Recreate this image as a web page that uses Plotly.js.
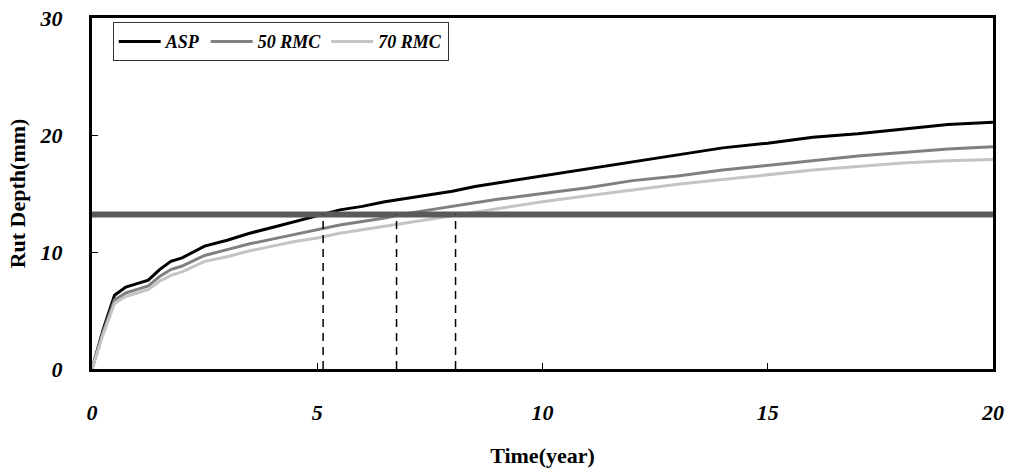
<!DOCTYPE html>
<html><head><meta charset="utf-8">
<script src="https://cdn.plot.ly/plotly-3.0.1.min.js"></script>
<style>html,body{margin:0;padding:0;background:#fff}#c{width:1011px;height:468px}</style>
</head><body><div id="c"></div>
<script>
const years = [0,0.25,0.5,0.75,1,1.25,1.5,1.75,2,2.5,3,3.5,4,4.5,5,5.5,6,6.5,7,7.5,8,8.5,9,10,11,12,13,14,15,16,17,18,19,20];
const asp   = [0,3.4,6.3,7.0,7.3,7.6,8.5,9.2,9.5,10.5,11.0,11.6,12.1,12.6,13.1,13.6,13.9,14.3,14.6,14.9,15.2,15.6,15.9,16.5,17.1,17.7,18.3,18.9,19.3,19.8,20.1,20.5,20.9,21.1];
const rmc50 = [0,3.2,5.9,6.5,6.8,7.1,7.9,8.5,8.8,9.7,10.2,10.7,11.1,11.5,11.9,12.3,12.6,12.9,13.3,13.6,13.9,14.2,14.5,15.0,15.5,16.1,16.5,17.0,17.4,17.8,18.2,18.5,18.8,19.0];
const rmc70 = [0,3.0,5.6,6.2,6.5,6.8,7.5,8.0,8.3,9.2,9.6,10.1,10.5,10.9,11.2,11.6,11.9,12.2,12.5,12.8,13.1,13.4,13.7,14.3,14.8,15.3,15.8,16.2,16.6,17.0,17.3,17.6,17.8,17.9];
const seriesNames = ['ASP','50 RMC','70 RMC'];
const limitDepth = 13.2;
const crossYears = [5.13, 6.76, 8.07];
const xTicks = [0,5,10,15,20];
const yTicks = [0,10,20,30];

const serif = 'Liberation Serif, Times New Roman, serif';
const mk = (y,name,color) => ({x:years,y:y,name:name,type:'scatter',mode:'lines',line:{color:color,width:3}});
const traces = [mk(asp,seriesNames[0],'#000000'), mk(rmc50,seriesNames[1],'#808080'), mk(rmc70,seriesNames[2],'#c4c4c4')];

const shapes = [{type:'line',xref:'paper',yref:'y',x0:0,x1:1,y0:limitDepth,y1:limitDepth,line:{color:'#5a5a5a',width:6}}];
crossYears.forEach(v=>shapes.push({type:'line',xref:'x',yref:'y',x0:v,x1:v,y0:0,y1:limitDepth,line:{color:'#000',width:1.5,dash:'8px,6px'}}));

const layout = {
  width:1011,height:468,
  margin:{l:92,r:18,t:18,b:99},
  paper_bgcolor:'#fff',plot_bgcolor:'#fff',
  showlegend:true,
  legend:{orientation:'h',x:0.023,y:0.988,xanchor:'left',yanchor:'top',bgcolor:'#fff',bordercolor:'#333',borderwidth:1,
          font:{family:serif,size:18,color:'#000',weight:'bold',style:'italic'},tracegroupgap:0,itemwidth:42},
  xaxis:{range:[0,20],tickvals:xTicks,ticktext:xTicks.map(String),ticks:'inside',ticklen:6,tickcolor:'#000',
         showgrid:false,zeroline:false,showline:true,linecolor:'#000',linewidth:3,mirror:true,ticklabelstandoff:22,
         tickfont:{family:serif,size:22,color:'#000',weight:'bold',style:'italic'},
         title:{text:'Time(year)',font:{family:serif,size:22,color:'#000',weight:'bold'},standoff:24}},
  yaxis:{range:[0,30],tickvals:yTicks,ticktext:yTicks.map(String),ticks:'inside',ticklen:6,tickcolor:'#000',
         showgrid:false,zeroline:false,showline:true,linecolor:'#000',linewidth:3,mirror:true,ticklabelstandoff:22,
         tickfont:{family:serif,size:22,color:'#000',weight:'bold',style:'italic'},
         title:{text:'Rut Depth(mm)',font:{family:serif,size:22,color:'#000',weight:'bold'},standoff:8}},
  shapes:shapes
};
Plotly.newPlot('c',traces,layout,{staticPlot:true,displayModeBar:false});
</script></body></html>
